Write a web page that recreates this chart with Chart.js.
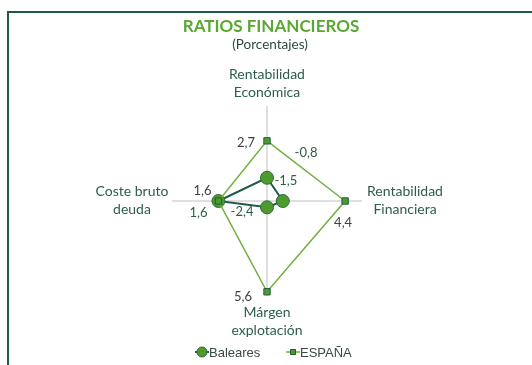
<!DOCTYPE html>
<html>
<head>
<meta charset="utf-8">
<script src="https://cdn.jsdelivr.net/npm/chart.js@4"></script>
<style>
  html, body { margin: 0; padding: 0; background: #fff; }
  #wrap { position: relative; width: 532px; height: 365px; overflow: hidden; }
  #frame { position: absolute; left: 7px; top: 11px; width: 600px; height: 400px;
           border-top: 2px solid #1f5a45; border-left: 2px solid #1f5a45; pointer-events: none; }
</style>
</head>
<body>
<div id="wrap">
  <canvas id="chart" width="532" height="365"></canvas>
  <div id="frame"></div>
</div>
<script>
// ejes del radar
const categories = [
    ['Rentabilidad', 'Económica'],
    ['Rentabilidad', 'Financiera'],
    ['Márgen', 'explotación'],
    ['Coste bruto', 'deuda']
];
const serieNames = ['Baleares', 'ESPAÑA'];
const baleares = [-0.8, -1.5, -2.4, 1.6];
const espana = [2.7, 4.4, 5.6, 1.6];
const scaleMin = -3;
const scaleMax = 6;
const titleText = 'RATIOS FINANCIEROS';
const subtitleText = '(Porcentajes)';

const fmt = v => v.toFixed(1).replace('.', ',');

// desplazamiento de las etiquetas respecto a cada punto
const labelOffsets = {
    'ESPAÑA':   [[-21, 2], [-2, 22], [-24, 5], [-16, -10]],
    'Baleares': [[39, -25], [3, -20], [-25, 4], [-20, 12]]
};
const labelColors = { 'ESPAÑA': '#404040', 'Baleares': '#2d5e46' };

const extras = {
    id: 'extras',
    afterDatasetsDraw(chart) {
        const ctx = chart.ctx;
        const scale = chart.scales.r;
        ctx.save();
        ctx.textBaseline = 'middle';
        ctx.textAlign = 'center';

        // titulo
        ctx.fillStyle = '#5aa832';
        ctx.font = 'bold 17px Lato';
        ctx.fillText(titleText, 271, 27);
        ctx.fillStyle = '#2b4a3b';
        ctx.font = '13.5px Lato';
        ctx.fillText(subtitleText, 270, 45);

        // nombres de los ejes
        ctx.fillStyle = '#2d5e4a';
        ctx.font = '14px Lato';
        const axisPos = [[0, -32], [43, -10], [0, 16], [-40, -10]];
        categories.forEach((lines, i) => {
            const p = scale.getPointPosition(i, scale.drawingArea);
            const dx = axisPos[i][0], dy = axisPos[i][1];
            lines.forEach((t, k) => {
                ctx.fillText(t, p.x + dx, p.y + dy + k * 18);
            });
        });

        // etiquetas de datos
        ctx.font = '13px Lato';
        chart.data.datasets.forEach((ds, di) => {
            const meta = chart.getDatasetMeta(di);
            ctx.fillStyle = labelColors[ds.label];
            meta.data.forEach((pt, i) => {
                const o = labelOffsets[ds.label][i];
                ctx.fillText(fmt(ds.data[i]), pt.x + o[0], pt.y + o[1]);
            });
        });

        // leyenda
        ctx.font = '13px "Liberation Sans"';
        ctx.textAlign = 'left';
        const items = [
            { ds: chart.data.datasets[1], x: 195 },
            { ds: chart.data.datasets[0], x: 286 }
        ];
        items.forEach(it => {
            const ds = it.ds, y = 352;
            ctx.strokeStyle = ds.borderColor;
            ctx.lineWidth = ds.borderWidth;
            ctx.beginPath();
            ctx.moveTo(it.x, y);
            ctx.lineTo(it.x + 14, y);
            ctx.stroke();
            ctx.fillStyle = ds.pointBackgroundColor;
            ctx.strokeStyle = ds.pointBorderColor;
            ctx.lineWidth = 1;
            ctx.beginPath();
            if (ds.pointStyle === 'rect') {
                ctx.rect(it.x + 4.5, y - 2.5, 5, 5);
            } else {
                ctx.arc(it.x + 7, y, 5, 0, Math.PI * 2);
            }
            ctx.fill();
            ctx.stroke();
            ctx.fillStyle = '#3a4a42';
            ctx.fillText(ds.label, it.x + 14, y + 1);
        });
        ctx.restore();
    }
};

var ctx = document.getElementById('chart').getContext('2d');
window.RatiosChart = new Chart(ctx, {
    type: 'radar',
    data: {
        labels: categories,
        datasets: [{
            label: serieNames[1],
            data: espana,
            borderColor: '#6fb040',
            borderWidth: 1.5,
            fill: false,
            pointStyle: 'rect',
            pointRadius: 4.5,
            pointBackgroundColor: '#4f9a2e',
            pointBorderColor: '#1f5a45',
            pointBorderWidth: 1
        }, {
            label: serieNames[0],
            data: baleares,
            borderColor: '#1f5a45',
            borderWidth: 2,
            fill: false,
            pointStyle: 'circle',
            pointRadius: 6.5,
            pointBackgroundColor: '#4f9a2e',
            pointBorderColor: '#2a6a3a',
            pointBorderWidth: 1
        }]
    },
    options: {
        responsive: false,
        animation: false,
        events: [],
        layout: { padding: { left: 172, right: 170, top: 106, bottom: 69 } },
        plugins: {
            legend: { display: false },
            title: { display: false },
            tooltip: { enabled: false }
        },
        elements: { line: { tension: 0 } },
        scales: {
            r: {
                min: scaleMin,
                max: scaleMax,
                ticks: { display: false },
                grid: { display: false },
                angleLines: { color: '#bfbfbf', lineWidth: 1 },
                pointLabels: { display: false }
            }
        }
    },
    plugins: [extras]
});
</script>
</body>
</html>
